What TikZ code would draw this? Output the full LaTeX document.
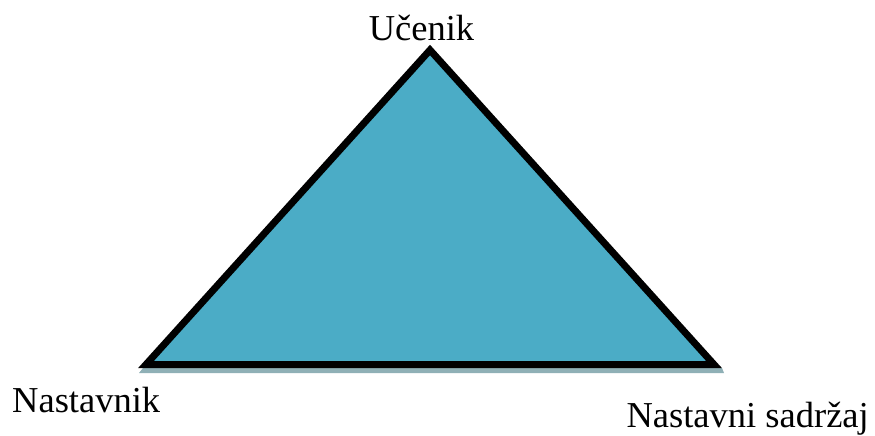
\documentclass[tikz,border=0pt]{standalone}
\usepackage{fontspec}
\setmainfont{Liberation Serif}
\begin{document}
\begin{tikzpicture}[x=1pt,y=-1pt,
  lbl/.style={inner sep=0pt,font=\fontsize{36.5}{42}\selectfont},
  tri/.style={draw=black,line width=7pt,line join=miter,fill=triblue},
  shadowstrip/.style={fill=shadowgray,draw=none}]
\definecolor{triblue}{HTML}{4BACC6}
\definecolor{shadowgray}{RGB}{143,176,182}
\useasboundingbox (0,0) rectangle (875,436);
\coordinate (A) at (430,50);
\coordinate (B) at (146,364.5);
\coordinate (C) at (714,364.5);
\fill[shadowgray] (143,368) -- (722,368) -- (724,373) -- (139,373) -- cycle;
\draw[tri] (A) -- (B) -- (C) -- cycle;
\node[lbl,anchor=base] (ucenik) at (421.5,41) {Učenik};
\node[lbl,anchor=base west] (nastavnik) at (12,412) {Nastavnik};
\node[lbl,anchor=base east] (sadrzaj) at (869,427.5) {Nastavni sadržaj};
\end{tikzpicture}
\end{document}
